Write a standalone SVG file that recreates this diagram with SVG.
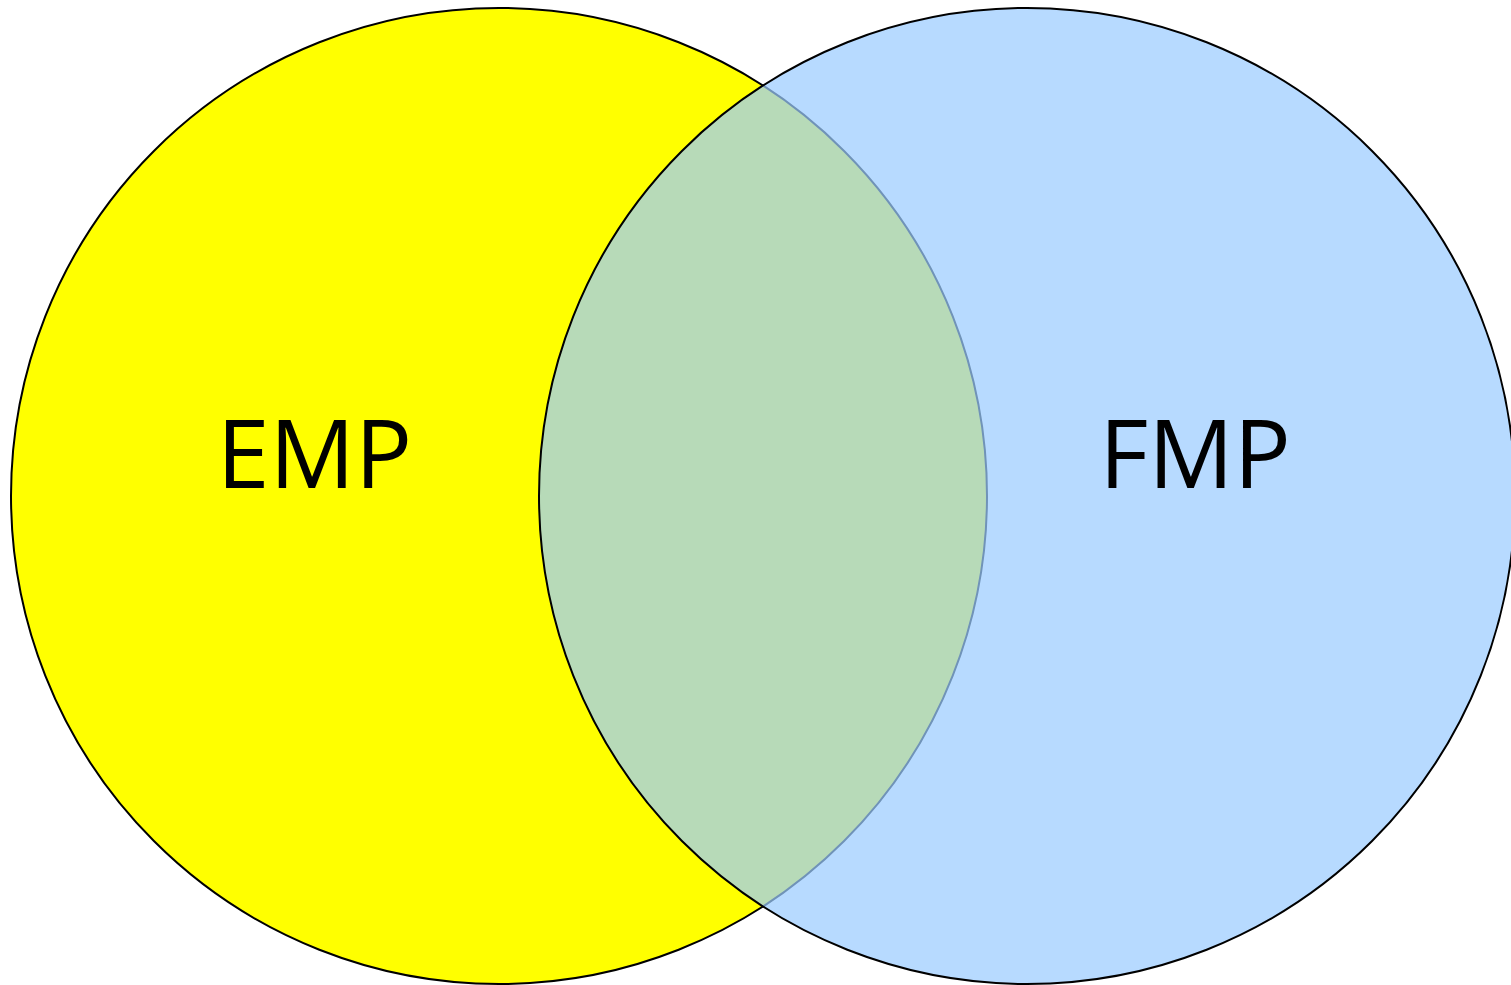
<svg xmlns="http://www.w3.org/2000/svg" width="1511" height="985" viewBox="0 0 1511 985">
<style>
.c{stroke:#000;stroke-width:2}
.lbl{font-family:"Open Sans","Noto Sans","Liberation Sans",sans-serif;font-size:95px;fill:#000;text-anchor:middle}
</style>
<rect width="1511" height="985" fill="#fff"/>
<g id="emp">
<circle class="c" cx="499" cy="496" r="488" fill="#ffff00"/>
<text class="lbl" x="314.5" y="488">EMP</text>
</g>
<g id="fmp">
<circle class="c" cx="1027" cy="496" r="488" fill="rgb(155,204,255)" fill-opacity="0.72"/>
<text class="lbl" x="1195" y="488">FMP</text>
</g>
<g id="connectors"></g>
</svg>
